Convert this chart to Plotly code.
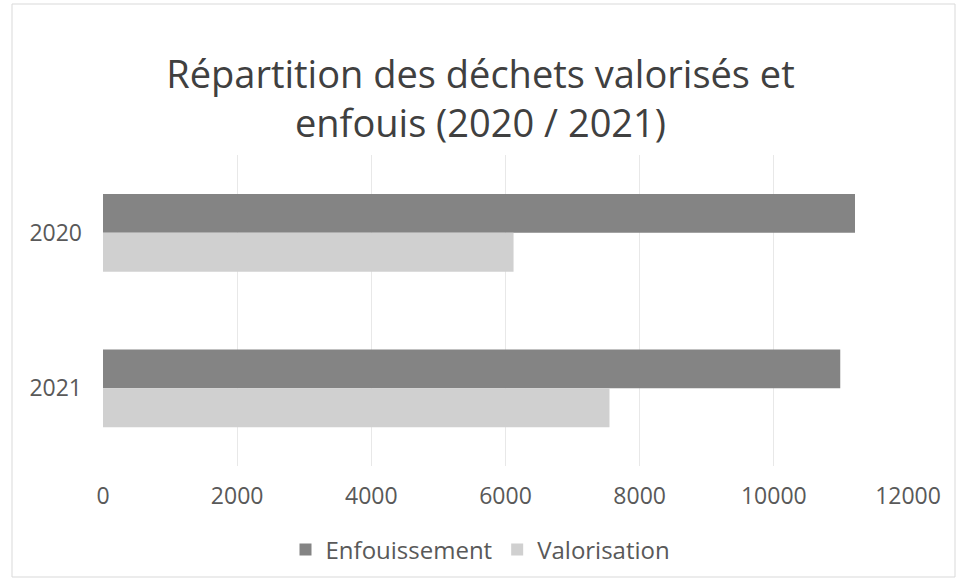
import plotly.graph_objects as go

categories = ["2020", "2021"]
enfouissement = [11210, 10990]
valorisation = [6120, 7550]
x_ticks = [0, 2000, 4000, 6000, 8000, 10000, 12000]

FONT = "Open Sans"
TXT = "#595959"

fig = go.Figure()
fig.add_trace(go.Bar(name="Enfouissement", y=categories, x=enfouissement,
                     orientation="h", marker=dict(color="#848484", line=dict(width=0))))
fig.add_trace(go.Bar(name="Valorisation", y=categories, x=valorisation,
                     orientation="h", marker=dict(color="#d0d0d0", line=dict(width=0))))

fig.update_layout(
    width=961, height=580,
    margin=dict(l=103, r=53, t=155, b=114),
    paper_bgcolor="white", plot_bgcolor="white",
    barmode="group", bargap=0.5, bargroupgap=0,
    font=dict(family=FONT, color=TXT),
    title=dict(text="Répartition des déchets valorisés et<br>enfouis (2020 / 2021)",
               x=0.5, xanchor="center", xref="container",
               y=1 - 88/580, yanchor="top", yref="container",
               font=dict(family=FONT, size=38, color="#404040")),
    xaxis=dict(range=[0, 12000], tickvals=x_ticks, ticktext=[str(v) for v in x_ticks],
               showgrid=True, gridcolor="#e8e8e8", gridwidth=1, zeroline=False,
               showline=False, tickfont=dict(size=23, color=TXT),
               ticks="", ticklabelstandoff=14),
    yaxis=dict(categoryorder="array", categoryarray=categories, autorange="reversed",
               showgrid=False, zeroline=False, showline=False,
               tickfont=dict(size=23, color=TXT), ticks="", ticklabelstandoff=20),
    legend=dict(orientation="h", x=0.5, xanchor="center", xref="container",
                y=1 - 550/580, yanchor="middle", yref="container",
                font=dict(size=24, color=TXT), itemwidth=30, traceorder="normal"),
    shapes=[dict(type="rect", xref="paper", yref="paper",
                 x0=(12 - 103) / 805, x1=(955 - 103) / 805,
                 y0=-(577 - 466) / 311, y1=1 + (155 - 4) / 311,
                 line=dict(color="#d9d9d9", width=1), layer="below")],
)

fig.write_html("out.html", config={"displayModeBar": False},
               post_script="document.body.style.margin='0';")
